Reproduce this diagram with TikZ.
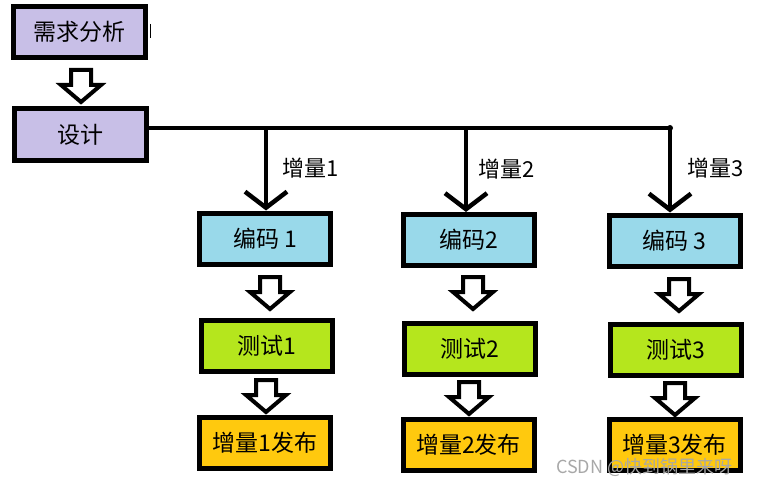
\documentclass[tikz,border=0pt]{standalone}
\usepackage{fontspec}
\newfontfamily\cjk{Noto Sans CJK SC}
\usetikzlibrary{arrows.meta,calc}
\definecolor{lav}{HTML}{C8BFE7}
\definecolor{codeblue}{HTML}{99D9EA}
\definecolor{testgreen}{HTML}{B5E61D}
\definecolor{relyellow}{HTML}{FFC90E}
\definecolor{wmgray}{HTML}{A8A8A8}
\begin{document}
\begin{tikzpicture}[x=1pt,y=-1pt,
  box/.style={draw=black, line width=5pt, minimum width=131pt, minimum height=51pt,
    inner sep=0pt, font=\cjk\fontsize{23}{23}\selectfont},
  reqbox/.style={box, fill=lav, minimum width=132pt},
  codebox/.style={box, fill=codeblue},
  testbox/.style={box, fill=testgreen},
  relbox/.style={box, fill=relyellow},
  bus/.style={line width=4.5pt},
  branch/.style={line width=4.5pt, -{Straight Barb[length=16pt,width=42pt]}},
  inclabel/.style={anchor=west, inner sep=0pt, font=\cjk\fontsize{22}{22}\selectfont},
  hollowarrow/.pic={\draw[line width=4pt, fill=white, line join=miter]
    (-10,0) -- (10,0) -- (10,15) -- (20,15) -- (0,32) -- (-20,15) -- (-10,15) -- cycle;}
]
\useasboundingbox (0,0) rectangle (764,487);

% boxes
\node[reqbox] (req) at (79.5,32) {需求分析};
\node[reqbox] (des) at (80,134.5) {设计};
\node[codebox] (c1) at (265,238.5) {编码 1};
\node[testbox] (t1) at (266.5,346) {测试1};
\node[relbox] (p1) at (265,442.5) {增量1发布};
\node[codebox] (c2) at (468.5,240) {编码2};
\node[testbox] (t2) at (470,348.5) {测试2};
\node[relbox] (p2) at (468.5,444.5) {增量2发布};
\node[codebox] (c3) at (674.5,240.5) {编码 3};
\node[testbox] (t3) at (675.5,349.5) {测试3};
\node[relbox] (p3) at (674.5,445) {增量3发布};

% stray cursor mark
\coordinate (curA) at (150,24);
\coordinate (curB) at (150,38);
\draw[line width=1pt] (curA) -- (curB);

% hollow arrows
\pic at (81,70) {hollowarrow};
\pic at (270,277) {hollowarrow};
\pic at (266,380) {hollowarrow};
\pic at (473,277) {hollowarrow};
\pic at (469,382) {hollowarrow};
\pic at (679,279) {hollowarrow};
\pic at (675,383) {hollowarrow};

% bus and branches
\coordinate (b1) at (266,128);
\coordinate (b2) at (466,128);
\coordinate (b3) at (670,128);
\draw[bus] ([yshift=6.5pt]des.east) -- (b3);
\fill (b3) circle (3pt);
\draw[branch] (b1) -- (b1 |- c1.north);
\draw[branch] (b2) -- (b2 |- c2.north);
\draw[branch] (b3) -- (b3 |- c3.north);

% labels
\node[inclabel] (l1) at (282,168) {增量1};
\node[inclabel] (l2) at (478,169) {增量2};
\node[inclabel] (l3) at (687,168) {增量3};

% watermark
\node[anchor=west, inner sep=0pt, text=wmgray, font=\cjk\fontsize{18}{18}\selectfont] (wm) at (556,467) {CSDN @快到锅里来呀};
\end{tikzpicture}
\end{document}
